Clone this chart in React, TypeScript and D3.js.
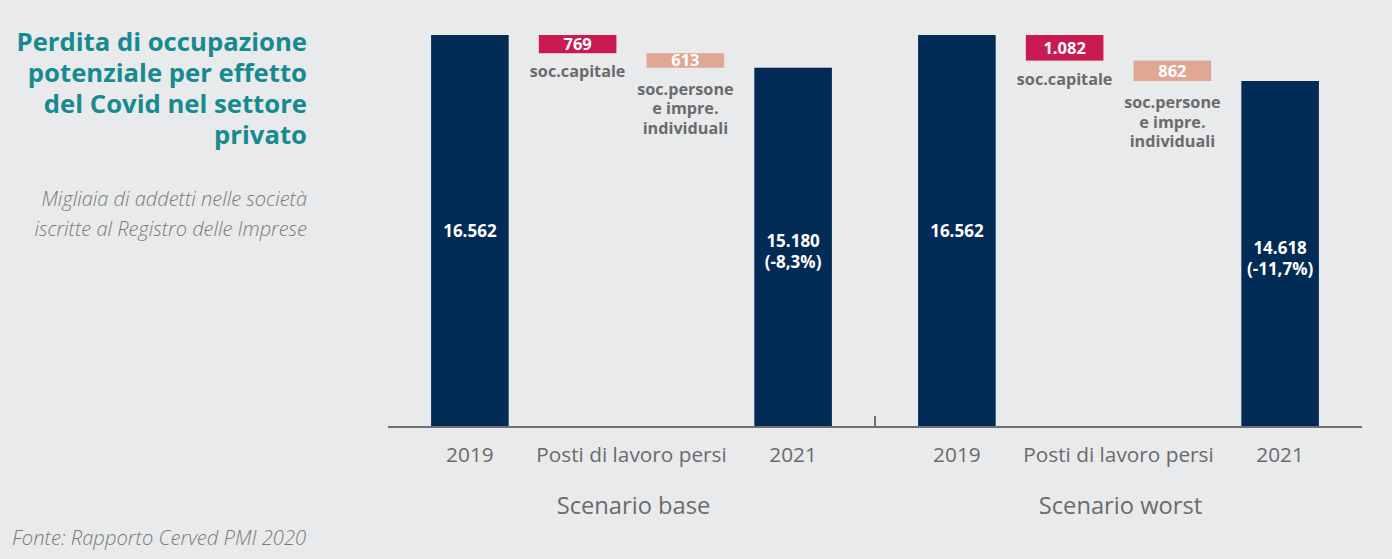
import React from "react";
import * as d3 from "d3";

const scenarios = ["Scenario base", "Scenario worst"];
const slotKeys = ["2019", "capitale", "persone", "2021"];
const axisLabels = ["2019", "Posti di lavoro persi", "2021"];
const start2019 = [16562, 16562];
const lossCapitale = [769, 1082];
const lossPersone = [613, 862];
const end2021 = [15180, 14618];
const pctChange = ["-8,3%", "-11,7%"];
const capLabel = ["soc.capitale"];
const persLabel = ["soc.persone", "e impre.", "individuali"];
const titleLines = ["Perdita di occupazione", "potenziale per effetto", "del Covid nel settore", "privato"];
const subtitleLines = ["Migliaia di addetti nelle società", "iscritte al Registro delle Imprese"];
const source = "Fonte: Rapporto Cerved PMI 2020";

const W = 1392;
const H = 559;
const FONT = "'Open Sans', 'Noto Sans', sans-serif";
const NAVY = "#022b55";
const CRIMSON = "#c91a52";
const SALMON = "#dfa794";
const GRAY = "#6b6b6b";
const TEAL = "#178a90";

const it = d3.formatLocale({ decimal: ",", thousands: ".", grouping: [3], currency: ["€", ""] });
const fmt = it.format(",d");

export default function App() {
  const x0 = d3.scaleBand<string>().domain(scenarios).range([388, 1362]);
  const x1 = d3.scaleBand<string>().domain(slotKeys).range([0, x0.bandwidth()]).paddingInner(0.28).paddingOuter(0.4);
  const y = d3.scaleLinear().domain([0, 16562]).range([427, 35]);
  const bw = x1.bandwidth();

  return (
    <svg width={W} height={H} style={{ display: "block", position: "absolute", left: 0, top: 0, background: "#e8eaeb" }}>
      <rect x={0} y={0} width={W} height={H} fill="#e8eaeb" />
      {titleLines.map((t, i) => (
        <text key={t} x={307} y={51 + i * 31} textAnchor="end" fontFamily={FONT} fontWeight={700} fontSize={25.7} fill={TEAL}>
          {t}
        </text>
      ))}
      {subtitleLines.map((t, i) => (
        <text key={t} x={307} y={206 + i * 30} textAnchor="end" fontFamily={FONT} fontStyle="italic" fontWeight={300} fontSize={20} fill="#7a7a7a">
          {t}
        </text>
      ))}
      <text x={12} y={545} fontFamily={FONT} fontStyle="italic" fontWeight={300} fontSize={20.2} fill="#7a7a7a">
        {source}
      </text>

      {scenarios.map((s, i) => {
        const ox = x0(s)!;
        const xa = ox + x1("2019")!;
        const xc = ox + x1("capitale")!;
        const xp = ox + x1("persone")!;
        const xe = ox + x1("2021")!;
        const afterCap = start2019[i] - lossCapitale[i];
        const afterPers = afterCap - lossPersone[i];
        return (
          <g key={s}>
            <rect x={xa} y={y(start2019[i])} width={bw} height={y(0) - y(start2019[i])} fill={NAVY} />
            <text x={xa + bw / 2} y={y(start2019[i] / 2) + 6} textAnchor="middle" fontFamily={FONT} fontWeight={700} fontSize={17} fill="#fff">
              {fmt(start2019[i])}
            </text>

            <rect x={xc} y={y(start2019[i])} width={bw} height={y(afterCap) - y(start2019[i])} fill={CRIMSON} />
            <text x={xc + bw / 2} y={(y(start2019[i]) + y(afterCap)) / 2 + 6} textAnchor="middle" fontFamily={FONT} fontWeight={700} fontSize={16.5} fill="#fff">
              {fmt(lossCapitale[i])}
            </text>
            {capLabel.map((t, k) => (
              <text key={t} x={xc + bw / 2} y={y(afterCap) + 24 + k * 19} textAnchor="middle" fontFamily={FONT} fontWeight={700} fontSize={16.2} fill={GRAY}>
                {t}
              </text>
            ))}

            <rect x={xp} y={y(afterCap)} width={bw} height={y(afterPers) - y(afterCap)} fill={SALMON} />
            <text x={xp + bw / 2} y={(y(afterCap) + y(afterPers)) / 2 + 6} textAnchor="middle" fontFamily={FONT} fontWeight={700} fontSize={16.5} fill="#fff">
              {fmt(lossPersone[i])}
            </text>
            {persLabel.map((t, k) => (
              <text key={t} x={xp + bw / 2} y={y(afterPers) + 27 + k * 19.5} textAnchor="middle" fontFamily={FONT} fontWeight={700} fontSize={16.2} fill={GRAY}>
                {t}
              </text>
            ))}

            <rect x={xe} y={y(end2021[i])} width={bw} height={y(0) - y(end2021[i])} fill={NAVY} />
            <text x={xe + bw / 2} y={y(end2021[i] / 2) - 0} textAnchor="middle" fontFamily={FONT} fontWeight={700} fontSize={17} fill="#fff">
              {fmt(end2021[i])}
            </text>
            <text x={xe + bw / 2} y={y(end2021[i] / 2) + 21} textAnchor="middle" fontFamily={FONT} fontWeight={700} fontSize={17} fill="#fff">
              {`(${pctChange[i]})`}
            </text>

            <text x={xa + bw / 2} y={462} textAnchor="middle" fontFamily={FONT} fontSize={20.8} fill={GRAY}>
              {axisLabels[0]}
            </text>
            <text x={(xc + xp + bw) / 2} y={462} textAnchor="middle" fontFamily={FONT} fontSize={20.8} fill={GRAY}>
              {axisLabels[1]}
            </text>
            <text x={xe + bw / 2} y={462} textAnchor="middle" fontFamily={FONT} fontSize={20.8} fill={GRAY}>
              {axisLabels[2]}
            </text>
            <text x={ox + x0.bandwidth() / 2 + 2} y={514} textAnchor="middle" fontFamily={FONT} fontSize={23.7} fill={GRAY}>
              {s}
            </text>
          </g>
        );
      })}

      <line x1={388} x2={1362} y1={y(0)} y2={y(0)} stroke="#707070" strokeWidth={2} />
      <line x1={x0("Scenario worst")!} x2={x0("Scenario worst")!} y1={416} y2={y(0)} stroke="#707070" strokeWidth={2} />
    </svg>
  );
}
